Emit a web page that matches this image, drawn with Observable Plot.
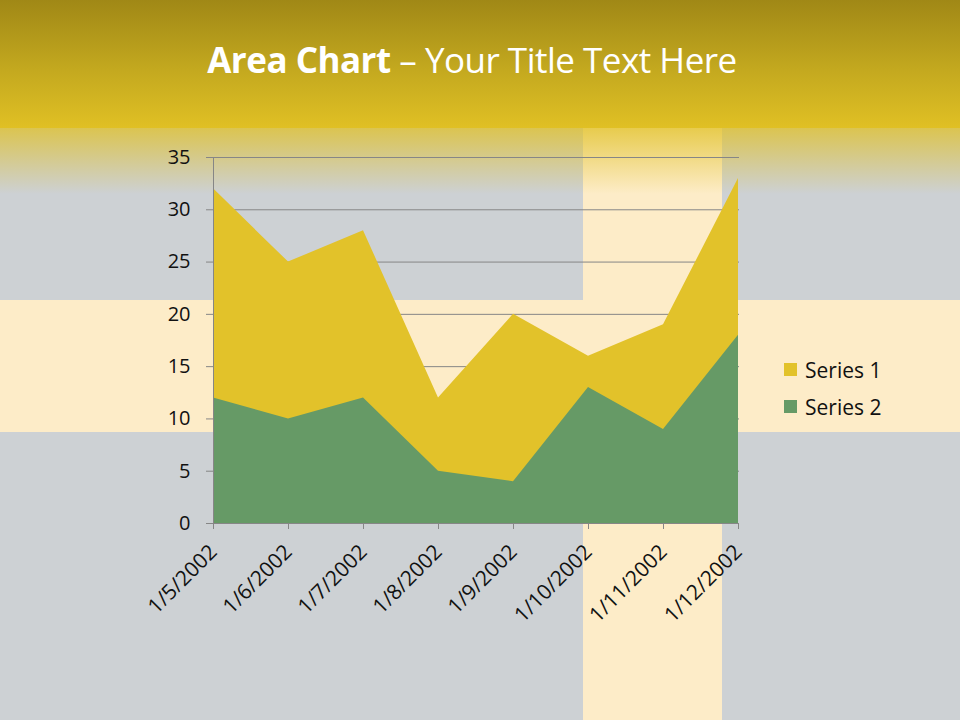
<!DOCTYPE html>
<html>
<head>
<meta charset="utf-8">
<script src="https://cdn.jsdelivr.net/npm/d3@7"></script>
<script src="https://cdn.jsdelivr.net/npm/@observablehq/plot@0.6"></script>
<style>
  html, body { margin: 0; padding: 0; }
  body { width: 960px; height: 720px; position: relative; overflow: hidden; background: #cdd1d4; font-family: "Open Sans", Lato, sans-serif; }
  .layer { position: absolute; }
  #hband { left: 0; top: 300px; width: 960px; height: 132px; background: #fdecc8; }
  #vband { left: 583px; top: 128px; width: 139px; height: 592px; background: #fdecc8; }
  #header { left: 0; top: 0; width: 960px; height: 128px; background: linear-gradient(#a08816, #c4a91f 55%, #e0c024); }
  #fade { left: 0; top: 128px; width: 960px; height: 66px; background: linear-gradient(rgba(224,192,36,0.75), rgba(224,192,36,0.0)); }
  #title { left: 0; top: 36px; width: 944px; text-align: center; color: #fff; font-size: 35px; letter-spacing: -0.5px; white-space: nowrap; }
  #title b { font-weight: 700; }
  #title span { font-weight: 400; }
  #chart { left: 0; top: 0; }
  #chart svg text { font-size: 20px; fill: #111; }
  #chart svg g[aria-label="x-axis tick label"] text { font-size: 21px; }
  #legend { left: 784px; top: 351px; font-size: 21px; color: #111; }
  .item { display: flex; align-items: center; height: 37px; }
  .sw { width: 13px; height: 13px; margin-right: 8px; }
</style>
</head>
<body>
<div class="layer" id="hband"></div>
<div class="layer" id="vband"></div>
<div class="layer" id="header"></div>
<div class="layer" id="fade"></div>
<div class="layer" id="title"><b>Area Chart</b><span> – Your Title Text Here</span></div>
<div class="layer" id="chart"></div>
<div class="layer" id="legend"></div>
<script>
const categories = ["1/5/2002", "1/6/2002", "1/7/2002", "1/8/2002", "1/9/2002", "1/10/2002", "1/11/2002", "1/12/2002"];
const series1 = [32, 25, 28, 12, 20, 16, 19, 33];
const series2 = [12, 10, 12, 5, 4, 13, 9, 18];
const seriesNames = ["Series 1", "Series 2"];
const seriesColors = ["#e2c22a", "#669a66"];
const yTicks = [0, 5, 10, 15, 20, 25, 30, 35];

const rows1 = categories.map((c, i) => ({date: c, value: series1[i], series: seriesNames[0]}));
const rows2 = categories.map((c, i) => ({date: c, value: series2[i], series: seriesNames[1]}));

const chart = Plot.plot({
  width: 960,
  height: 720,
  marginLeft: 212,
  marginRight: 221,
  marginTop: 157,
  marginBottom: 197,
  style: {background: "transparent", fontFamily: "'Open Sans', Lato, sans-serif", fontSize: "20px", color: "#111"},
  x: {type: "point", domain: categories, padding: 0, label: null},
  y: {domain: [0, 35], label: null},
  color: {domain: seriesNames, range: seriesColors},
  marks: [
    Plot.ruleY(yTicks.slice(1), {stroke: "#868686", strokeWidth: 1, strokeOpacity: 1}),
    Plot.areaY(rows1, {x: "date", y: "value", fill: "series", fillOpacity: 1}),
    Plot.areaY(rows2, {x: "date", y: "value", fill: "series", fillOpacity: 1}),
    Plot.axisY({ticks: yTicks, tickSize: 6, tickPadding: 16, stroke: "#868686", label: null}),
    Plot.ruleX([categories[0]], {stroke: "#868686"}),
    Plot.ruleY([0], {stroke: "#868686"}),
    Plot.axisX({tickSize: 6, tickPadding: 19, tickRotate: -45, stroke: "#868686", label: null})
  ]
});
document.getElementById("chart").appendChild(chart);

const legend = document.getElementById("legend");
seriesNames.forEach((n, i) => {
  const d = document.createElement("div");
  d.className = "item";
  d.innerHTML = `<div class="sw" style="background:${seriesColors[i]}"></div><div>${n}</div>`;
  legend.appendChild(d);
});
</script>
</body>
</html>
